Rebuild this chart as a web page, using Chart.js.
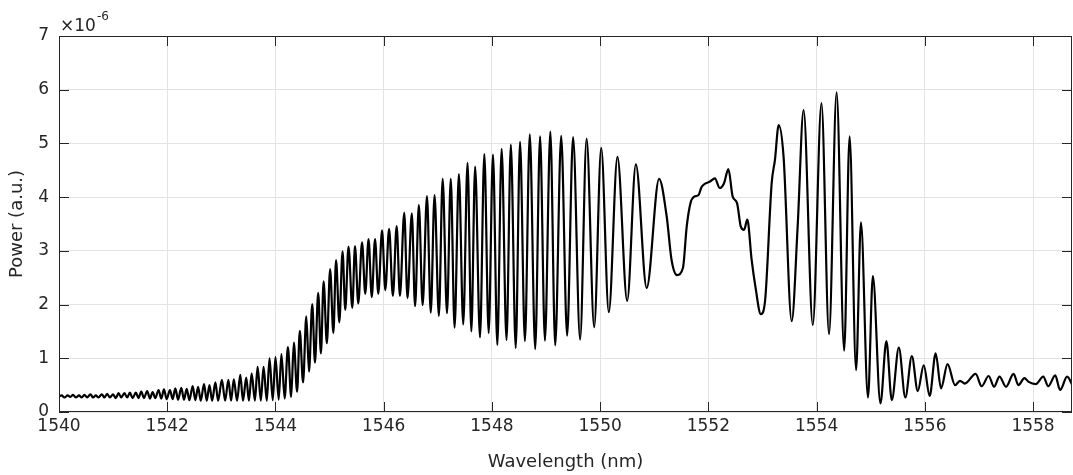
<!DOCTYPE html>
<html>
<head>
<meta charset="utf-8">
<title>Spectrum</title>
<script src="https://cdn.jsdelivr.net/npm/chart.js@4.4.0/dist/chart.umd.min.js"></script>
<style>
  html, body { margin: 0; padding: 0; background: #fff; }
  #wrap { width: 1073px; height: 475px; }
</style>
</head>
<body>
<div id="wrap"><canvas id="spectrum" width="1073" height="475"></canvas></div>
<script>
// Tick values (power is in units of 1e-6)
const xTicks = [1540, 1542, 1544, 1546, 1548, 1550, 1552, 1554, 1556, 1558];
const yTicks = [0, 1, 2, 3, 4, 5, 6, 7];

// [wavelength (nm), power] pairs, peak / trough by peak / trough

// flat start, tiny ripple
const lowTail = [
  [1540.00,0.29],[1540.05,0.31],[1540.10,0.27],[1540.16,0.31],[1540.21,0.28],[1540.26,0.32],
  [1540.31,0.27],[1540.37,0.31],[1540.42,0.27],[1540.47,0.32],[1540.52,0.27],[1540.58,0.33],
  [1540.63,0.27],[1540.68,0.31],[1540.73,0.27],[1540.79,0.33],[1540.84,0.27],[1540.89,0.34],
  [1540.94,0.27],[1541.00,0.33],[1541.05,0.26],[1541.10,0.35],[1541.15,0.27],[1541.21,0.35],
  [1541.26,0.27],[1541.31,0.36],[1541.36,0.26],[1541.42,0.36],[1541.47,0.26],[1541.52,0.38],
  [1541.57,0.26],[1541.63,0.39],[1541.68,0.25],[1541.73,0.37],[1541.78,0.26],[1541.84,0.41],
  [1541.89,0.25],[1541.94,0.42],[1541.99,0.24],[1542.05,0.41],[1542.10,0.24],[1542.15,0.44],
  [1542.20,0.23],[1542.26,0.45],[1542.31,0.23],[1542.36,0.43],[1542.41,0.22],[1542.47,0.48],
  [1542.52,0.22],[1542.57,0.47],[1542.62,0.21],[1542.68,0.52],[1542.73,0.21],[1542.78,0.50],
  [1542.83,0.21],[1542.89,0.55],[1542.94,0.21]
];

// rising edge
const rampUp = [
  [1543.01,0.60],[1543.07,0.21],[1543.13,0.60],[1543.18,0.21],[1543.23,0.61],[1543.29,0.21],
  [1543.35,0.69],[1543.40,0.21],[1543.46,0.64],[1543.51,0.21],[1543.56,0.72],[1543.62,0.21],
  [1543.67,0.84],[1543.73,0.21],[1543.78,0.84],[1543.84,0.21],[1543.89,1.00],[1543.95,0.22],
  [1544.00,1.02],[1544.06,0.23],[1544.11,1.08],[1544.17,0.25],[1544.23,1.21],[1544.29,0.28],
  [1544.34,1.29],[1544.40,0.38],[1544.45,1.51],[1544.51,0.55],[1544.57,1.78],[1544.62,0.75],
  [1544.68,2.01],[1544.73,0.92],[1544.79,2.22],[1544.84,1.09],[1544.89,2.43],[1544.95,1.28]
];

// dense fringes
const fringes = [
  [1545.01,2.66],[1545.07,1.47],[1545.12,2.83],[1545.18,1.67],[1545.24,2.99],[1545.29,1.90],
  [1545.35,3.08],[1545.42,1.94],[1545.47,3.09],[1545.53,2.02],[1545.60,3.16],[1545.66,2.20],
  [1545.72,3.22],[1545.78,2.14],[1545.84,3.22],[1545.90,2.20],[1545.97,3.38],[1546.03,2.27],
  [1546.10,3.41],[1546.17,2.16],[1546.24,3.46],[1546.30,2.16],[1546.38,3.71],[1546.44,2.12],
  [1546.52,3.70],[1546.58,1.97],[1546.65,3.85],[1546.72,1.99],[1546.80,4.02],[1546.87,1.85],
  [1546.94,4.04],[1547.02,1.79],[1547.09,4.34],[1547.17,1.84],[1547.24,4.34],[1547.31,1.57],
  [1547.39,4.43],[1547.47,1.63],[1547.55,4.64],[1547.62,1.50],[1547.69,4.57],[1547.78,1.39],
  [1547.86,4.80],[1547.94,1.47],[1548.02,4.79],[1548.10,1.25],[1548.18,4.90],[1548.27,1.34],
  [1548.35,4.98],[1548.44,1.19],[1548.52,5.03],[1548.61,1.32],[1548.70,5.17],[1548.80,1.17],
  [1548.89,5.13],[1548.98,1.33],[1549.08,5.22],[1549.17,1.24],[1549.28,5.14],[1549.39,1.42],
  [1549.50,5.12],[1549.63,1.35],[1549.75,5.09],[1549.89,1.58],[1550.02,4.92],[1550.16,1.86],
  [1550.32,4.75],[1550.50,2.07],[1550.66,4.61],[1550.86,2.31]
];

// broad hump and plateau
const centre = [
  [1551.09,4.34],[1551.23,3.64],[1551.32,2.83],[1551.42,2.55],[1551.53,2.68],[1551.60,3.45],
  [1551.67,3.89],[1551.74,4.01],[1551.82,4.04],[1551.87,4.18],[1551.94,4.25],[1552.03,4.29],
  [1552.12,4.35],[1552.21,4.17],[1552.29,4.26],[1552.37,4.52],[1552.45,4.01],[1552.53,3.89],
  [1552.60,3.45],[1552.66,3.39],[1552.72,3.58],[1552.80,2.83],[1552.87,2.33],[1552.97,1.82],
  [1553.05,2.09],[1553.17,4.26],[1553.23,4.69]
];

// tall lobes and their decay
const lobes = [
  [1553.30,5.34],[1553.39,4.75],[1553.54,1.69],[1553.65,3.45],[1553.76,5.62],[1553.93,1.62],
  [1554.09,5.75],[1554.23,1.45],[1554.37,5.95],[1554.51,1.14],[1554.61,5.13],[1554.73,0.78],
  [1554.82,3.53],[1554.95,0.27],[1555.04,2.53],[1555.18,0.16],[1555.29,1.32],[1555.39,0.22],
  [1555.52,1.20],[1555.64,0.27],[1555.76,1.04],[1555.87,0.39],[1555.98,0.87],[1556.09,0.30],
  [1556.20,1.09],[1556.30,0.44],[1556.42,0.89],[1556.56,0.50]
];

// noisy floor at the right
const floor = [
  [1556.65,0.58],[1556.74,0.53],[1556.94,0.71],[1557.05,0.48],[1557.18,0.67],[1557.28,0.47],
  [1557.38,0.66],[1557.50,0.47],[1557.64,0.71],[1557.73,0.50],[1557.84,0.63],[1557.92,0.56],
  [1558.05,0.52],[1558.19,0.66],[1558.28,0.48],[1558.41,0.68],[1558.50,0.41],[1558.63,0.66],
  [1558.74,0.47]
];

const trace = [...lowTail, ...rampUp, ...fringes, ...centre, ...lobes, ...floor]
  .map(([x, y]) => ({ x, y }));

const AXIS = '#262626';
const GRID = '#e3e3e3';
const FONT = 'DejaVu Sans';

// MATLAB style box with inward ticks, plus the x10^-6 multiplier
const frame = {
  id: 'frame',
  afterDraw(chart) {
    const { ctx, chartArea: a, scales: { x, y } } = chart;
    ctx.save();
    ctx.strokeStyle = AXIS;
    ctx.lineWidth = 1;
    ctx.beginPath();
    xTicks.forEach(v => {
      const px = Math.round(x.getPixelForValue(v)) + 0.5;
      ctx.moveTo(px, a.bottom); ctx.lineTo(px, a.bottom - 10);
      ctx.moveTo(px, a.top);    ctx.lineTo(px, a.top + 10);
    });
    yTicks.forEach(v => {
      const py = Math.round(y.getPixelForValue(v)) + 0.5;
      ctx.moveTo(a.left, py);  ctx.lineTo(a.left + 10, py);
      ctx.moveTo(a.right, py); ctx.lineTo(a.right - 10, py);
    });
    ctx.stroke();
    ctx.strokeRect(Math.round(a.left) + 0.5, Math.round(a.top) + 0.5,
                   Math.round(a.right - a.left) - 1, Math.round(a.bottom - a.top) - 1);

    ctx.fillStyle = AXIS;
    ctx.textAlign = 'left';
    ctx.textBaseline = 'alphabetic';
    ctx.font = `17px "${FONT}"`;
    ctx.fillText('×10', a.left + 1, a.top - 5);
    const w = ctx.measureText('×10').width;
    ctx.font = `12px "${FONT}"`;
    ctx.fillText('-6', a.left + 2 + w, a.top - 16);
    ctx.restore();
  }
};

new Chart(document.getElementById('spectrum'), {
  type: 'line',
  data: {
    datasets: [{
      data: trace,
      borderColor: '#000',
      borderWidth: 2.2,
      pointRadius: 0,
      cubicInterpolationMode: 'monotone',
      fill: false,
    }]
  },
  options: {
    responsive: false,
    animation: false,
    devicePixelRatio: 1,
    layout: { padding: { top: 36, right: 1, left: 0, bottom: 0 } },
    plugins: { legend: { display: false }, tooltip: { enabled: false } },
    scales: {
      x: {
        type: 'linear',
        min: 1540,
        max: 1558.72,
        afterBuildTicks: s => { s.ticks = xTicks.map(v => ({ value: v })); },
        afterFit: s => { s.height = 63; },
        grid: { color: GRID, drawTicks: false },
        border: { display: false },
        ticks: {
          color: AXIS, padding: 4, maxRotation: 0,
          font: { family: FONT, size: 17 },
          callback: v => String(v),
        },
        title: {
          display: true, text: 'Wavelength (nm)', color: AXIS,
          font: { family: FONT, size: 18 }, padding: { top: 0, bottom: 2 },
        },
      },
      y: {
        min: 0,
        max: 7,
        afterBuildTicks: s => { s.ticks = yTicks.map(v => ({ value: v })); },
        afterFit: s => { s.width = 59; },
        grid: { color: GRID, drawTicks: false },
        border: { display: false },
        ticks: {
          color: AXIS, padding: 10,
          font: { family: FONT, size: 17 },
          callback: v => String(v),
        },
        title: {
          display: true, text: 'Power (a.u.)', color: AXIS,
          font: { family: FONT, size: 18 }, padding: { top: 7, bottom: 0 },
        },
      },
    },
  },
  plugins: [frame],
});
</script>
</body>
</html>
